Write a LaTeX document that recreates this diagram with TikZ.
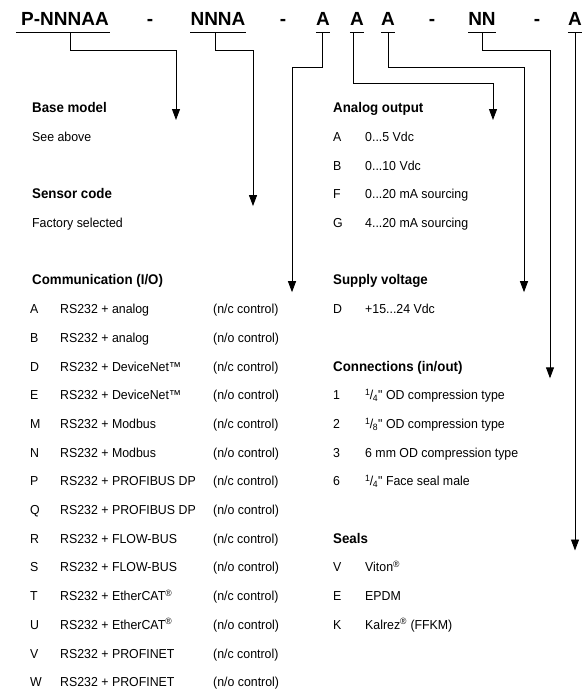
\documentclass[tikz,border=0pt]{standalone}
\usepackage{fontspec}
\setmainfont{Liberation Sans}
\newfontfamily\itemfont{Liberation Sans}[FakeStretch=0.95]
\usetikzlibrary{arrows.meta}
\newcommand{\frq}[1]{\textsuperscript{1}\kern-.04em/\kern-.04em\textsubscript{#1}"}
\begin{document}
\begin{tikzpicture}[x=1pt,y=-1pt,
  code/.style={font=\fontsize{19}{19}\selectfont\bfseries, inner sep=0pt, anchor=base},
  head/.style={font=\itemfont\fontsize{14}{14}\selectfont\bfseries, inner sep=0pt, anchor=base west},
  item/.style={font=\itemfont\fontsize{13}{13}\selectfont, inner sep=0pt, anchor=base west},
  conn/.style={line width=0.9pt, -{Triangle[length=11pt,width=8pt]}},
  uline/.style={line width=0.8pt}]
\useasboundingbox (0,0) rectangle (585,697);
% code line
\node[code] (cP)  at (65,25)  {P-NNNAA};
\node[code] (d1)  at (150,25) {-};
\node[code] (cN)  at (218,25) {NNNA};
\node[code] (d2)  at (283,25) {-};
\node[code] (cA1) at (323,25) {A};
\node[code] (cA2) at (357,25) {A};
\node[code] (cA3) at (388,25) {A};
\node[code] (d3)  at (432,25) {-};
\node[code] (cNN) at (482,25) {NN};
\node[code] (d4)  at (537,25) {-};
\node[code] (cA4) at (575,25) {A};
% underlines
\draw[uline] ([shift={(-5,7)}]cP.south west) -- ([shift={(1,7)}]cP.south east);
\foreach \n in {cN,cA1,cA2,cA3,cNN,cA4}
  \draw[uline] ([shift={(0,7)}]\n.south west) -- ([shift={(0,7)}]\n.south east);
% left headings
\node[head] (hBase)   at (32,{112.7})        {Base model};
\node[item] (iBase)   at (32,{112.7+28.7})   {See above};
\node[head] (hSensor) at (32,{112.7+28.7*3}) {Sensor code};
\node[item] (iSensor) at (32,{112.7+28.7*4}) {Factory selected};
\node[head] (hComm)   at (32,{112.7+28.7*6}) {Communication (I/O)};
\foreach \k/\l/\t/\c in {
  7/A/{RS232 + analog}/c, 8/B/{RS232 + analog}/o,
  9/D/{RS232 + DeviceNet™}/c, 10/E/{RS232 + DeviceNet™}/o,
  11/M/{RS232 + Modbus}/c, 12/N/{RS232 + Modbus}/o,
  13/P/{RS232 + PROFIBUS DP}/c, 14/Q/{RS232 + PROFIBUS DP}/o,
  15/R/{RS232 + FLOW-BUS}/c, 16/S/{RS232 + FLOW-BUS}/o,
  17/T/{RS232 + EtherCAT\textsuperscript{®}}/c, 18/U/{RS232 + EtherCAT\textsuperscript{®}}/o,
  19/V/{RS232 + PROFINET}/c, 20/W/{RS232 + PROFINET}/o}{
  \node[item] (L\k) at (30,{112.7+28.7*\k}) {\l};
  \node[item] (T\k) at (60,{112.7+28.7*\k}) {\t};
  \node[item] (C\k) at (213,{112.7+28.7*\k}) {(n/\c\ control)};
}
% right headings
\node[head] (hAnalog) at (333,{112.7})         {Analog output};
\node[head] (hSupply) at (333,{112.7+28.7*6})  {Supply voltage};
\node[head] (hConn)   at (333,{112.7+28.7*9})  {Connections (in/out)};
\node[head] (hSeals)  at (333,{112.7+28.7*15}) {Seals};
\foreach \k/\l/\t in {
  1/A/{0...5 Vdc}, 2/B/{0...10 Vdc}, 3/F/{0...20 mA sourcing}, 4/G/{4...20 mA sourcing},
  7/D/{+15...24 Vdc},
  10/1/{\frq{4} OD compression type}, 11/2/{\frq{8} OD compression type},
  12/3/{6 mm OD compression type}, 13/6/{\frq{4} Face seal male},
  16/V/{Viton\textsuperscript{®}}, 17/E/{EPDM}, 18/K/{Kalrez\textsuperscript{®} (FFKM)}}{
  \node[item] (RL\k) at (333,{112.7+28.7*\k}) {\l};
  \node[item] (RT\k) at (365,{112.7+28.7*\k}) {\t};
}
% connector start and end points
\coordinate (s1) at (70,32);  \coordinate (t1) at (176,120);
\coordinate (s2) at (215,32); \coordinate (t2) at (253,{108+28.7*3+12});
\coordinate (s3) at (322,32); \coordinate (t3) at (292,{108+28.7*6+12});
\coordinate (s4) at (353,32); \coordinate (t4) at (493,120);
\coordinate (s5) at (388,32); \coordinate (t5) at (524,{108+28.7*6+12});
\coordinate (s6) at (482,32); \coordinate (t6) at (550,{108+28.7*9+12});
\coordinate (s7) at (575,32); \coordinate (t7) at (575,{108+28.7*15+12});
\draw[conn] (s1) -- ++(0,18) -| (t1);
\draw[conn] (s2) -- ++(0,18) -| (t2);
\draw[conn] (s3) -- ++(0,35) -| (t3);
\draw[conn] (s4) -- ++(0,51) -| (t4);
\draw[conn] (s5) -- ++(0,35) -| (t5);
\draw[conn] (s6) -- ++(0,18) -| (t6);
\draw[conn] (s7) -- (t7);
\end{tikzpicture}
\end{document}
